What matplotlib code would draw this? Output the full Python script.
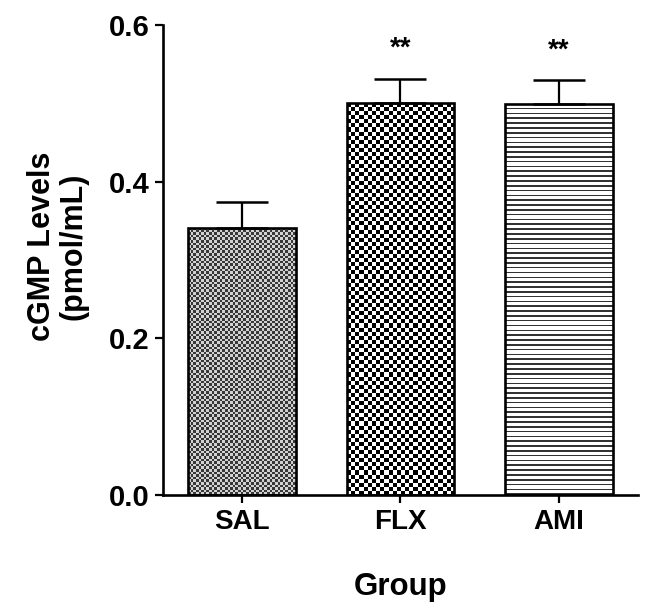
import matplotlib
matplotlib.use("Agg")
import matplotlib.pyplot as plt
import numpy as np

plt.rcParams['font.family'] = ['Liberation Sans', 'DejaVu Sans']
plt.rcParams['font.weight'] = 'bold'

# data
groupes = ['SAL', 'FLX', 'AMI']
moyennes = [0.341, 0.500, 0.499]
erreurs = [0.033, 0.031, 0.030]
signif = ['', '**', '**']

fig = plt.figure(figsize=(6.47, 6.06), dpi=100)
ax = fig.add_axes([0.252, 0.183, 0.734, 0.776])

x = np.arange(len(groupes))
ax.set_xlim(-0.5, 2.5)
ax.set_ylim(0, 0.6)

barres = ax.bar(x, moyennes, width=0.68, facecolor='none',
                edgecolor='black', linewidth=1.9, zorder=3)


# remplissage des barres (motifs) avec une image découpée par la barre
def motif(barre, genre, cellule):
    x0, y0 = barre.get_x(), barre.get_y()
    x1, y1 = x0 + barre.get_width(), y0 + barre.get_height()
    p0 = ax.transData.transform((x0, y0))
    p1 = ax.transData.transform((x1, y1))
    nx = max(1, int(round((p1[0] - p0[0]) / cellule)))
    ny = max(1, int(round((p1[1] - p0[1]) / cellule)))
    ii, jj = np.indices((ny, nx))
    if genre == 'fin':
        img = np.where((ii + jj) % 2 == 0, 0.22, 0.82)
    elif genre == 'damier':
        img = np.where((ii + jj) % 2 == 0, 0.0, 1.0)
    else:
        img = np.where(ii % 3 == 0, 0.2, 1.0)
    im = ax.imshow(img, cmap='gray', vmin=0, vmax=1, extent=[x0, x1, y0, y1],
                   aspect='auto', interpolation='nearest', zorder=2)
    im.set_clip_path(barre)


motif(barres[0], 'fin', 2.6)
motif(barres[1], 'damier', 4.1)
motif(barres[2], 'lignes', 1.6)
ax.set_xlim(-0.5, 2.5)
ax.set_ylim(0, 0.6)

ax.errorbar(x, moyennes, yerr=[np.zeros(3), erreurs], fmt='none',
            ecolor='black', elinewidth=1.6, capsize=19, capthick=1.8, zorder=4)

for xi, m, e, s in zip(x, moyennes, erreurs, signif):
    if s:
        ax.text(xi, m + e + 0.022, s, ha='center', va='bottom',
                fontsize=20, fontweight='bold')

ax.spines['top'].set_visible(False)
ax.spines['right'].set_visible(False)
ax.spines['left'].set_linewidth(1.9)
ax.spines['bottom'].set_linewidth(1.9)

ax.set_yticks([0.0, 0.2, 0.4, 0.6])
ax.set_yticklabels(['0.0', '0.2', '0.4', '0.6'])
ax.set_xticks(x)
ax.set_xticklabels(groupes)
ax.tick_params(axis='both', width=1.6, length=6, labelsize=20, pad=4)
ax.tick_params(axis='y', labelsize=21)

ax.set_ylabel('cGMP Levels\n(pmol/mL)', fontsize=22, fontweight='bold',
              linespacing=1.05)
ax.yaxis.set_label_coords(-0.158, 0.528)
ax.set_xlabel('Group', fontsize=22.5, fontweight='bold', labelpad=27)

fig.savefig('out.png', dpi=100)
